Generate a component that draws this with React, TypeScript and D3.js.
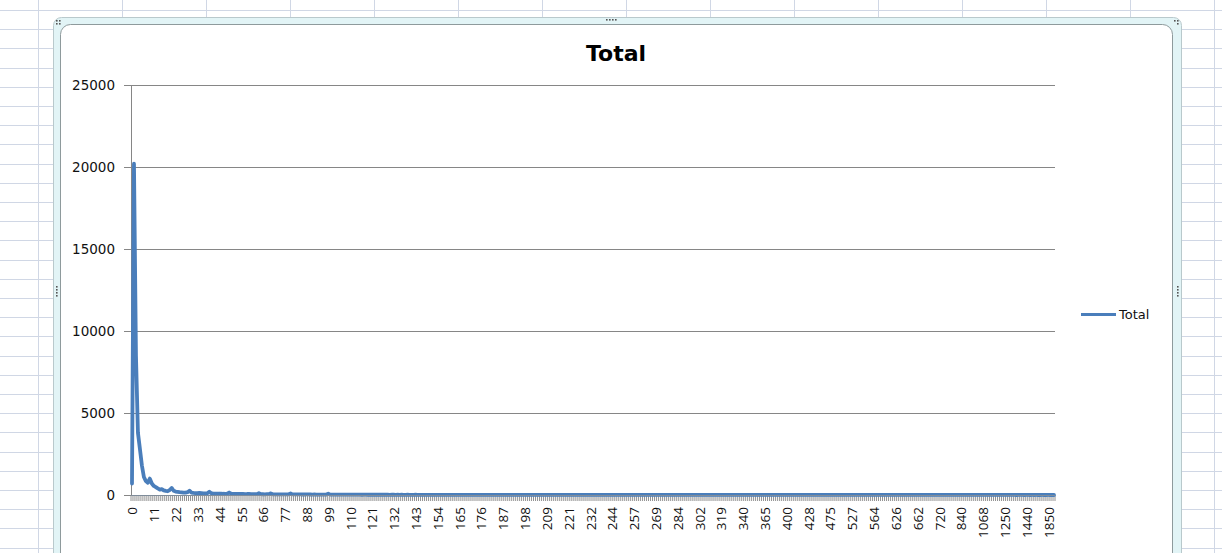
import * as d3 from 'd3';

// Excel-style line chart "Total" with a long categorical x axis
const seriesName = 'Total';

const totals = [
  700, 20200, 8500, 3800, 2800, 1800, 1100, 850, 750, 1000, 700, 550, 480, 400, 330, 360, 280, 250, 230, 300,
  430, 260, 210, 190, 170, 160, 150, 140, 170, 260, 150, 130, 120, 110, 130, 115, 100, 95, 110, 200,
  110, 90, 85, 80, 90, 85, 75, 70, 80, 150, 80, 70, 65, 60, 70, 65, 60, 55, 60, 70,
  55, 50, 48, 52, 110, 50, 45, 42, 48, 50, 100, 45, 40, 38, 42, 40, 36, 35, 38, 40,
  90, 38, 35, 32, 36, 34, 30, 30, 33, 32, 30, 28, 30, 27, 26, 28, 25, 24, 26, 80,
  24, 22, 25, 21, 20, 23, 19, 22, 20, 18, 21, 19, 17, 20, 18, 19, 16, 18, 17, 15,
  18, 16, 17, 15, 16, 14, 17, 15, 14, 16, 13, 15, 14, 13, 15, 12, 14, 13, 12, 14,
  12, 13, 11, 14, 12, 11, 13, 12, 10, 12, 11, 13, 10, 11, 12, 10, 11, 9, 12, 10,
  11, 10, 9, 11, 10, 12, 9, 10, 11, 9, 10, 8, 11, 9, 10, 9, 8, 10, 9, 8,
  10, 9, 8, 9, 11, 8, 9, 8, 10, 9, 8, 9, 7, 10, 8, 9, 8, 7, 9, 8,
  8, 9, 7, 8, 10, 7, 8, 9, 7, 8, 8, 7, 9, 8, 7, 8, 9, 7, 8, 6,
  8, 7, 9, 7, 6, 8, 7, 8, 6, 7, 9, 7, 8, 6, 7, 8, 7, 6, 8, 7,
  7, 6, 8, 7, 6, 7, 8, 6, 7, 7, 6, 8, 7, 6, 7, 6, 8, 7, 6, 7,
  6, 7, 6, 8, 6, 7, 6, 7, 5, 7, 6, 7, 6, 5, 7, 6, 6, 7, 5, 6,
  7, 6, 5, 6, 7, 6, 5, 6, 6, 7, 5, 6, 6, 5, 7, 6, 5, 6, 5, 6,
  6, 5, 6, 7, 5, 6, 5, 6, 6, 5, 7, 5, 6, 5, 6, 5, 6, 5, 5, 6,
  5, 6, 5, 5, 6, 5, 6, 4, 5, 6, 5, 5, 6, 4, 5, 5, 6, 5, 4, 5,
  5, 4, 6, 5, 5, 4, 5, 5, 6, 4, 5, 4, 5, 5, 4, 6, 4, 5, 4, 5,
  4, 5, 5, 4, 5, 4, 4, 5, 4, 5, 4, 4, 5, 4, 3, 5, 4, 4, 5, 4,
  4, 3, 4, 5, 4, 4, 3, 4, 4, 3, 5, 4, 3, 4, 4, 3, 4, 3, 4, 3,
  3, 4, 3, 4, 3, 3, 4, 3, 3, 4, 3, 3, 2, 3, 4, 3, 3, 2, 3, 3,
  3, 2, 3, 3, 2, 3, 2, 3, 3, 2, 2, 3, 2, 2, 3, 2, 2, 3, 2, 2,
  2, 2, 3, 2, 2, 2, 1, 2, 2, 2, 1, 2, 2, 1, 2, 1, 2, 1, 1, 2,
  1, 1, 2, 1, 1, 1,
];

// every 11th category label is shown
const xLabels = [
  '0', '11', '22', '33', '44', '55', '66', '77', '88', '99', '110', '121', '132', '143', '154',
  '165', '176', '187', '198', '209', '221', '232', '244', '257', '269', '284', '302', '319',
  '340', '365', '400', '428', '475', '527', '564', '626', '662', '720', '840', '1068', '1250',
  '1440', '1850',
];
const labelStep = 11;
const yTicks = [0, 5000, 10000, 15000, 20000, 25000];

const W = 1222;
const H = 553;

const App = () => {
  const left = 131;
  const right = 1055;
  const top = 85;
  const bottom = 495;

  const x = d3.scaleBand<number>().domain(d3.range(totals.length)).range([left, right]).padding(0);
  const y = d3.scaleLinear().domain([0, 25000]).range([bottom, top]);
  const cx = (i: number) => (x(i) as number) + x.bandwidth() / 2;

  const line = d3
    .line<number>()
    .x((_, i) => cx(i))
    .y((d) => y(d));

  const sheetCols = d3.range(38, W, 84);
  const sheetRows = d3.range(10, H, 19.2);
  const grid = '#d0d7e5';
  const axisGray = '#868686';

  return (
    <svg
      width={W}
      height={H}
      style={{ position: 'absolute', left: 0, top: 0, background: '#fff' }}
    >
      {/* spreadsheet cells behind the chart */}
      {sheetCols.map((c) => (
        <line key={'c' + c} x1={c + 0.5} x2={c + 0.5} y1={0} y2={H} stroke={grid} />
      ))}
      {sheetRows.map((r) => (
        <line key={'r' + r} x1={0} x2={W} y1={Math.round(r) + 0.5} y2={Math.round(r) + 0.5} stroke={grid} />
      ))}

      {/* chart frame */}
      <rect x={53.5} y={17.5} width={1128} height={560} rx={8} fill="#e2f4f6" stroke="#b9c9cc" />
      <rect x={60.5} y={24.5} width={1112} height={550} rx={10} fill="#fff" stroke="#8e9a9c" />
      {[
        [56, 20], [59, 20], [56, 23], [59, 23],
        [1174, 20], [1177, 20], [1177, 23],
        [606, 19], [609, 19], [612, 19], [615, 19],
        [56, 286], [56, 289], [56, 292], [56, 295],
        [1177, 286], [1177, 289], [1177, 292], [1177, 295],
      ].map(([a, b], k) => (
        <rect key={'h' + k} x={a} y={b} width={1.6} height={1.6} fill="#555" />
      ))}

      <text
        x={616}
        y={61}
        textAnchor="middle"
        fontFamily="DejaVu Sans"
        fontWeight="bold"
        fontSize={22}
        fill="#000"
      >
        Total
      </text>

      {/* horizontal gridlines and y labels */}
      {yTicks.map((t) => (
        <g key={'y' + t}>
          <line x1={124} x2={right} y1={Math.round(y(t)) + 0.5} y2={Math.round(y(t)) + 0.5} stroke={axisGray} />
          <text
            x={115}
            y={y(t) + 5}
            textAnchor="end"
            fontFamily="DejaVu Sans"
            fontSize={13.5}
            fill="#111"
          >
            {t}
          </text>
        </g>
      ))}
      <line x1={left + 0.5} x2={left + 0.5} y1={top} y2={bottom} stroke={axisGray} />

      {/* category tick marks */}
      {d3.range(totals.length + 1).map((i) => {
        const px = left + i * x.bandwidth();
        return <line key={'t' + i} x1={px} x2={px} y1={bottom} y2={bottom + 6} stroke={axisGray} strokeWidth={0.9} />;
      })}

      <path
        d={line(totals) ?? ''}
        fill="none"
        stroke="#4a7ebb"
        strokeWidth={3.8}
        strokeLinejoin="round"
        strokeLinecap="round"
      />
      <line x1={left} x2={right} y1={bottom + 0.5} y2={bottom + 0.5} stroke="#7f8c9a" />

      {/* x labels */}
      {xLabels.map((lab, k) => {
        const px = cx(k * labelStep) + 1;
        return (
          <text
            key={'x' + k}
            transform={`translate(${px + 4.5},507) rotate(-90)`}
            textAnchor="end"
            fontFamily="Open Sans"
            fontSize={13.5}
            fill="#111"
          >
            {lab}
          </text>
        );
      })}

      {/* legend */}
      <line x1={1081} x2={1116} y1={314.5} y2={314.5} stroke="#4a7ebb" strokeWidth={3} />
      <text x={1119} y={319} fontFamily="DejaVu Sans" fontSize={13} fill="#111">
        {seriesName}
      </text>
    </svg>
  );
};

export default App;
